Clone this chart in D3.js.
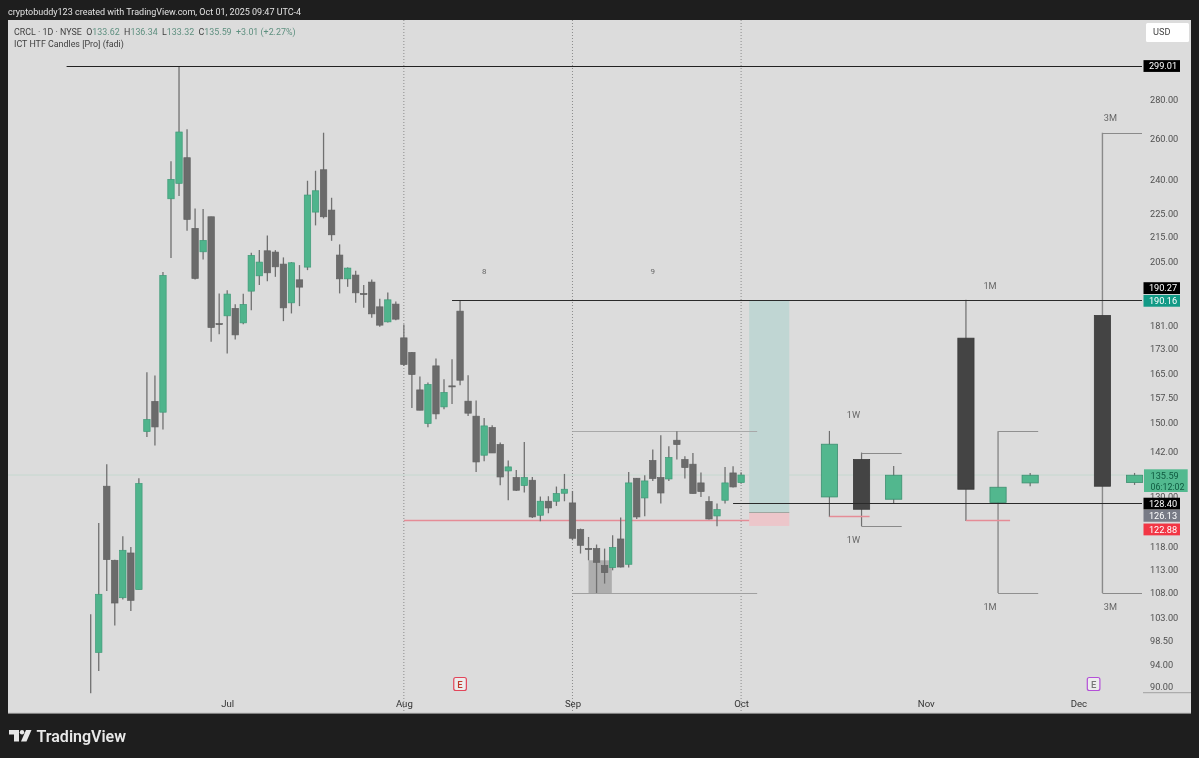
<!DOCTYPE html>
<html>
<head>
<meta charset="utf-8">
<script src="https://cdnjs.cloudflare.com/ajax/libs/d3/7.8.5/d3.min.js"></script>
<style>
html,body{margin:0;padding:0;background:#1e1e1e;overflow:hidden}
svg{display:block;filter:blur(0.3px)}
text{font-family:Roboto,"Noto Sans",sans-serif}
</style>
</head>
<body>
<svg id="c" width="1199" height="758"></svg>
<script>
// Daily candles, first bar is 5 Jun 2025, bar index -17 (index 0 = 1 Jul)
const firstBar = -17;
const opens = [null,96.23,132.69,114.98,106.96,116.62,108.65,147.49,156.31,153.11,231.33,238.33,250.43,218.44,208.78,223.41,181.7,
184.47,187.12,181.98,193.49,199.31,209.18,208.66,203.87,189.16,197.77,202.69,225.44,244.67,226.31,207.46,198.15,199.58,192.6,196.89,187.7,182.33,188.69,
176.77,171.85,159.85,149.8,167.45,154.69,161.1,186.14,156.4,151.93,140.89,148.64,143.83,136.67,134.93,132.87,134.23,125.45,128.89,128.89,130.9,
128.47,122.03,117.65,117.62,113.81,113.37,119.82,114.1,134.75,129.72,139.45,134.93,134.57,145.03,139.72,138.46,133.54,128.82,125.28,129.14,136.14,133.62];
const highs = [103.58,123.6,138.46,115.1,120.46,117.99,134.75,165.42,164.37,200.74,248.69,299.01,264.57,227.06,226.75,223.41,192.64,
193.86,188.69,192.49,208.38,209.46,215.51,209.46,206.53,204.66,203.48,239.52,244.2,262.84,231.78,211.79,202.57,201.24,195.76,197.92,190.63,193.0,189.68,
181.42,172.0,164.06,162.16,169.86,163.2,169.62,190.04,164.47,156.61,151.43,149.3,144.39,139.45,136.93,144.55,135.09,130.07,130.15,132.61,135.88,
131.48,122.26,120.29,118.54,117.62,120.69,124.89,136.4,134.83,135.54,142.44,146.44,143.36,147.57,140.62,141.51,136.25,130.15,128.32,137.74,137.92,136.34];
const lows = [88.94,92.81,108.35,101.34,106.57,104.24,108.65,145.96,143.56,148.06,206.25,232.54,217.43,197.92,205.73,175.41,178.04,
171.52,176.22,181.53,186.5,195.76,197.27,198.92,182.58,185.32,187.96,201.51,219.72,222.71,213.26,192.64,195.11,189.16,187.34,183.75,180.58,182.12,182.93,
167.45,154.39,153.7,148.73,151.05,154.0,155.59,161.32,152.02,136.4,139.26,141.51,132.95,129.14,131.48,131.08,124.8,124.0,125.93,127.73,128.89,
119.52,116.49,114.98,107.94,109.92,112.78,113.37,113.37,124.55,125.21,134.05,128.32,134.05,139.72,134.68,130.83,129.97,124.41,122.81,128.32,132.37,133.32];
const closes = [null,107.67,115.14,105.87,117.23,106.42,133.38,150.96,148.81,199.46,240.17,263.2,222.28,198.31,213.43,180.37,181.4,
192.38,177.8,188.58,207.33,204.66,200.47,202.81,187.34,204.39,195.0,233.0,234.93,223.41,215.76,198.15,202.3,192.86,192.35,185.18,181.18,190.26,183.29,
167.91,164.69,153.7,161.52,152.61,159.06,160.9,162.88,152.82,139.07,149.1,141.51,135.09,137.74,131.66,134.93,125.04,128.89,127.23,130.83,131.92,
119.99,118.37,117.4,114.54,112.29,117.85,113.5,133.54,125.04,134.05,134.68,130.97,140.26,143.83,137.57,130.83,131.33,124.55,126.83,133.54,132.51,135.59];

// Higher-timeframe projected candles
const htfBars   = [75,79,83,92,96,100,109,113];
const htfOpens  = [129.97,139.72,129.39,176.67,128.57,133.54,184.6,133.64];
const htfHighs  = [147.66,141.61,138.0,190.27,147.57,136.14,262.84,136.14];
const htfLows   = [125.04,122.81,128.47,124.07,107.94,132.69,107.94,133.03];
const htfCloses = [143.92,126.91,135.54,131.92,132.43,135.54,132.69,135.54];

const priceTicks = [280,260,240,225,215,205,181,173,165,157.5,150,142,130,118,113,108,103,98.5,94,90];
const monthBars = [0,22,43,64,87,106];
const monthLabels = ["Jul","Aug","Sep","Oct","Nov","Dec"];
const verticalBars = [22,43,64];

const pillValues = [299.01,190.27,190.16,128.40,126.13,122.88];
const pillFills = ["#000","#000","#129a86","#000","#787b86","#f23645"];
const pillNudge = [0,-11.7,0.7,0.4,3.4,3.5];

const W=1199,H=758;
const x=d3.scaleLinear().domain([0,64]).range([227.2,741.1]);
const y=d3.scaleLog().domain([280,90]).range([100,687]);
const plotRight=1142;

const svg=d3.select("#c");
svg.append("rect").attr("width",W).attr("height",H).attr("fill","#1e1e1e");
svg.append("rect").attr("x",8).attr("y",20).attr("width",1183).attr("height",693).attr("fill","#dcdcdc");
svg.append("line").attr("x1",8).attr("x2",1191).attr("y1",713.3).attr("y2",713.3).attr("stroke","#9a9a9a");

const g=svg.append("g");

// vertical dotted separators
g.selectAll(".vl").data(verticalBars).join("line")
 .attr("x1",d=>x(d)).attr("x2",d=>x(d)).attr("y1",20).attr("y2",713)
 .attr("stroke","#8c8c8c").attr("stroke-dasharray","1,2");

// faint last-price line
g.append("line").attr("x1",8).attr("x2",plotRight).attr("y1",y(135.59)).attr("y2",y(135.59)).attr("stroke","#c6d8cf");

// projected boxes
function box(b0,b1,p0,p1,fill){
  g.append("rect").attr("x",x(b0)).attr("width",x(b1)-x(b0)).attr("y",y(p0)).attr("height",y(p1)-y(p0)).attr("fill",fill);
}
box(65,70,190.0,126.13,"#c0d6d3");
box(65,70,126.13,122.88,"#ecc6ca");
box(45,47.9,114.98,107.94,"#adadad");

function hline(b0,b1,p,c,w){
  const py=Math.round(y(p))+0.5;
  g.append("line").attr("x1",x(b0)).attr("x2",b1===null?plotRight:x(b1)).attr("y1",py).attr("y2",py).attr("stroke",c).attr("stroke-width",w);
}
hline(65,70,126.13,"#a0a6a0",1);
hline(22,65,124.2,"#e58c96",1.5);
hline(43,66,147.57,"#a8a8a8",1.2);
hline(43,66,107.94,"#a0a0a0",1.2);

// Daily candles
const daily=closes.map((c,i)=>({i:i+firstBar,o:opens[i],h:highs[i],l:lows[i],c}));
const bw=6.4;
g.selectAll(".w").data(daily).join("line")
 .attr("x1",d=>x(d.i)).attr("x2",d=>x(d.i)).attr("y1",d=>y(d.h)).attr("y2",d=>y(d.l))
 .attr("stroke","#707070").attr("stroke-width",1.3);
const bodies=daily.filter(d=>d.c!==null);
g.selectAll(".b").data(bodies).join("rect")
 .attr("x",d=>x(d.i)-bw/2).attr("width",bw)
 .attr("y",d=>y(Math.max(d.o,d.c))).attr("height",d=>Math.max(1,Math.abs(y(d.o)-y(d.c))))
 .attr("fill",d=>d.c>d.o?"#4fb48c":"#6b6b6b")
 .attr("stroke",d=>d.c>d.o?"#3f9a78":"#626262").attr("stroke-width",0.7);

// Higher-timeframe candles
const htf=htfBars.map((b,i)=>({i:b,o:htfOpens[i],h:htfHighs[i],l:htfLows[i],c:htfCloses[i]}));
const hw=16.2;
const big=new Set([96,109]);
g.selectAll(".hw").data(htf).join("line")
 .attr("x1",d=>x(d.i)).attr("x2",d=>x(d.i)).attr("y1",d=>y(d.h)).attr("y2",d=>y(d.l))
 .attr("stroke",d=>big.has(d.i)?"#8a8a8a":"#6f6f6f").attr("stroke-width",d=>big.has(d.i)?1.4:1.2);
g.selectAll(".hb").data(htf).join("rect")
 .attr("x",d=>x(d.i)-hw/2).attr("width",hw)
 .attr("y",d=>y(Math.max(d.o,d.c))).attr("height",d=>Math.abs(y(d.o)-y(d.c)))
 .attr("fill",d=>d.c>d.o?"#52b78e":"#444444")
 .attr("stroke",d=>d.c>d.o?"#3d8f70":"#3a3a3a").attr("stroke-width",0.8);

// range brackets on higher-timeframe candles
hline(79,84,141.61,"#8a8a8a",1.2);
hline(79,84,122.81,"#8a8a8a",1.2);
hline(96,101,147.57,"#909090",1.2);
hline(96,101,107.94,"#909090",1.2);
hline(109,null,262.84,"#8a8a8a",1.2);
hline(109,null,107.94,"#8a8a8a",1.2);
hline(75,80,125.15,"#e58c96",1.5);
hline(92,97.5,124.2,"#e58c96",1.5);

// Key levels
hline(-20,null,299.01,"#222",1);
hline(28,null,190.27,"#2a2a2a",1);
hline(63,null,128.40,"#2a2a2a",1);

// Annotations
const noteBars=[78,78,95,95,110,110,32,53];
const notePrices=[152.2,119.5,195.4,105,270.4,105,201.1,201.1];
const noteTexts=["1W","1W","1M","1M","3M","3M","8","9"];
g.selectAll(".n").data(noteTexts).join("text")
 .attr("x",(d,i)=>x(noteBars[i])).attr("y",(d,i)=>y(notePrices[i])+3)
 .attr("text-anchor","middle").attr("font-size",d=>d.length>1?9.2:8).attr("fill","#666").text(d=>d);

// Axes
const yAxis=d3.axisRight(y).tickValues(priceTicks).tickSize(0).tickPadding(0).tickFormat(d3.format(".2f"));
const ya=svg.append("g").attr("transform","translate(1150,0)").call(yAxis);
ya.select(".domain").remove();
ya.selectAll("text").attr("font-size",9.2).attr("font-family","Roboto,sans-serif").attr("fill","#505050");

const xAxis=d3.axisBottom(x).tickValues(monthBars).tickSize(0).tickPadding(0).tickFormat((d,i)=>monthLabels[i]);
const xa=svg.append("g").attr("transform","translate(0,700)").call(xAxis);
xa.select(".domain").remove();
xa.selectAll("text").attr("font-size",9.6).attr("font-family","Roboto,sans-serif").attr("fill","#333");

svg.append("line").attr("x1",1143).attr("x2",1191).attr("y1",692.7).attr("y2",692.7).attr("stroke","#a0a0a0");

// Pills
const pills=svg.append("g");
pillValues.forEach((v,i)=>{
  const cy=y(v)+pillNudge[i];
  pills.append("rect").attr("x",1143.5).attr("y",cy-5.9).attr("width",36.5).attr("height",11.8).attr("fill",pillFills[i]);
  pills.append("text").attr("x",1163).attr("y",cy+3.3).attr("text-anchor","middle").attr("font-size",9.2).attr("fill","#fff").text(v.toFixed(2));
});
pills.append("rect").attr("x",1144).attr("y",469.3).attr("width",43.7).attr("height",22.7).attr("fill","#52b98f");
pills.append("text").attr("x",1150.5).attr("y",479).attr("font-size",9.2).attr("fill","#0f5a40").text("135.59");
pills.append("text").attr("x",1150.5).attr("y",489.5).attr("font-size",8.8).attr("fill","#0f5a40").text("06:12:02");

// USD
svg.append("rect").attr("x",1146).attr("y",23).attr("width",43).attr("height",19).attr("rx",1.5).attr("fill","#fff");
svg.append("text").attr("x",1153).attr("y",35).attr("font-size",9.2).attr("fill","#444").text("USD");

// Earnings markers
const eBars=[29,107.9];
const eColors=["#e2455a","#b450d8"];
eBars.forEach((b,i)=>{
  const cx=x(b);
  svg.append("rect").attr("x",cx-6.3).attr("y",677.5).attr("width",12.6).attr("height",13).attr("rx",2).attr("fill","#ececec").attr("stroke",eColors[i]).attr("stroke-width",1.2);
  svg.append("text").attr("x",cx).attr("y",687.8).attr("text-anchor","middle").attr("font-size",9.5).attr("font-weight",500).attr("fill",i?"#777":"#c0392b").text("E");
});

// Header
svg.append("text").attr("x",8).attr("y",15).attr("font-size",9).attr("fill","#e2e2e2")
 .text("cryptobuddy123 created with TradingView.com, Oct 01, 2025 09:47 UTC-4");

const legendFont=8.9;
const legend=svg.append("text").attr("x",14).attr("y",34.5).attr("font-size",legendFont).attr("xml:space","preserve");
const lc="#3f3f3f", lv="#5d8f7f";
[["CRCL · 1D · NYSE  ",lc],["O",lc],["133.62  ",lv],["H",lc],["136.34  ",lv],["L",lc],["133.32  ",lv],["C",lc],["135.59  ",lv],["+3.01 (+2.27%)",lv]]
 .forEach(([t,c])=>legend.append("tspan").attr("fill",c).text(t));
svg.append("text").attr("x",14).attr("y",47).attr("font-size",legendFont).attr("fill",lc).text("ICT HTF Candles [Pro] (fadi)");

// TradingView logo
const logo=svg.append("g").attr("fill","#e8e8e8");
logo.append("path").attr("d","M9 730H19V741.5H14V734.5H9Z");
logo.append("circle").attr("cx",22).attr("cy",732.2).attr("r",2.2);
logo.append("path").attr("d","M26 730H31.5L26.5 741.5H21Z");
svg.append("text").attr("x",36.5).attr("y",741.5).attr("font-family","Inter,sans-serif").attr("font-weight",600).attr("font-size",16).attr("fill","#e8e8e8").text("TradingView");
</script>
</body>
</html>
